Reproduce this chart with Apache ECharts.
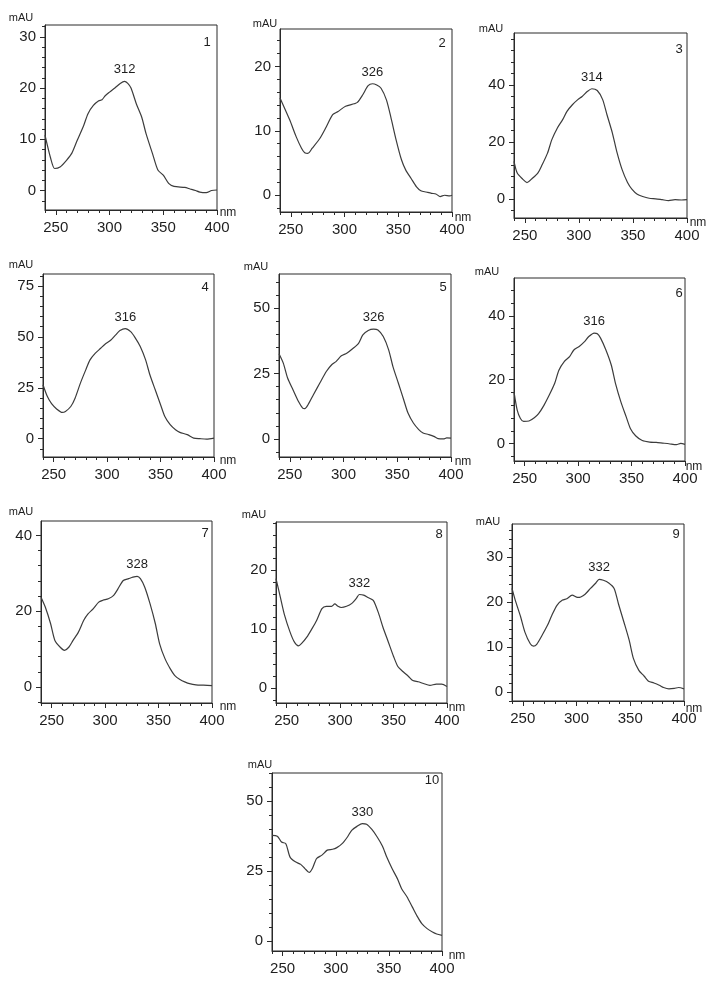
<!DOCTYPE html>
<html>
<head>
<meta charset="utf-8">
<script src="https://cdn.jsdelivr.net/npm/echarts@6/dist/echarts.min.js"></script>
<style>
html,body{margin:0;padding:0;background:#fff;}
#chart{width:719px;height:988px;}
</style>
</head>
<body>
<div id="chart"></div>
<script>
// ---- Data (wavelength nm / absorbance mAU) ----
var nm1 = [240,245,249,254,260,265,270,276,280,285,290,293,296,300,305,310,314,317,320,325,330,334,340,345,350,355,360,370,375,380,384,390,395,400];
var abs1 = [10.8,6.5,4.3,4.6,5.9,7.3,9.8,12.7,15,16.6,17.5,17.7,18.5,19.2,20,20.9,21.3,20.9,20,16.9,14.3,11.1,7.2,4,3,1.4,0.8,0.6,0.3,0,-0.3,-0.4,0,0.1];

var nm2 = [240,249,255,260,263,266,270,277,283,289,294,301,309,312,317,322,326,330,334,339,343,348,353,357,362,367,371,376,381,385,389,393,398,400];
var abs2 = [15.1,11.7,9.1,7.3,6.6,6.5,7.3,8.8,10.6,12.5,13,13.8,14.2,14.4,15.6,17,17.3,17.1,16.6,14.8,12.2,8.6,5.5,3.9,2.6,1.3,0.7,0.5,0.3,0.2,-0.2,0,-0.1,0];

var nm3 = [240,243,248,252,257,262,266,271,275,280,285,289,294,299,303,308,312,317,322,326,331,335,340,345,349,354,359,365,371,377,383,389,395,400];
var abs3 = [13.2,9.1,7,5.8,7.3,9.1,12,16.1,20.8,24.8,27.8,30.7,33,34.8,35.9,37.7,38.6,38,34.8,29.5,23.1,16.7,10.3,5.8,3.5,1.7,0.9,0.3,0.1,-0.2,-0.5,-0.2,-0.3,-0.2];

var nm4 = [240,244,248,253,258,261,266,270,275,280,284,289,294,298,303,308,312,317,322,326,331,336,340,345,350,354,359,364,368,375,381,387,393,400];
var abs4 = [26.5,20.8,17.2,14.5,12.9,13.4,15.8,19.9,27.3,33.8,38.7,42,44.4,46.4,48.2,51,53.1,54.1,52.6,49.8,45.3,38.7,31.4,24,16.7,10.9,6.9,4.4,3.1,2,0.3,0,-0.2,0.3];

var nm5 = [240,244,248,253,258,262,264,267,272,278,284,289,293,298,303,309,314,318,323,328,332,337,342,346,351,356,360,365,370,374,379,384,388,393,396,400];
var abs5 = [32.6,29,23.3,18.8,14.4,11.8,11.6,13.1,16.9,21.4,25.8,28.4,29.6,31.8,32.8,34.7,36.6,39.8,41.5,42,41.7,39.2,34.1,27.7,21.4,15,9.9,6.1,3.6,2.3,1.7,1,0.1,0,0.4,0.3];

var nm6 = [240,243,246,249,254,259,263,268,273,278,282,287,292,296,301,306,310,315,318,321,326,331,335,340,345,349,354,360,367,373,379,385,392,396,400];
var abs6 = [16.2,10.5,7.9,7,7.1,8.1,9.4,12,15.2,18.8,23,25.7,27.2,29.3,30.4,31.9,33.5,34.6,34.4,33,29.3,24.6,18.8,13.1,8.4,4.7,2.4,1,0.5,0.4,0.2,0,-0.3,0.1,-0.2];

var nm7 = [240,244,249,253,258,262,266,270,275,280,284,289,294,298,303,308,312,317,322,326,330,333,337,342,347,351,356,361,365,370,375,379,385,392,400];
var abs7 = [23.7,21.1,16.7,12.3,10.5,9.7,10.5,12.3,14.5,17.6,19.3,20.7,22.4,22.9,23.3,24.2,25.9,28.1,28.6,29,29.2,28.6,26.4,22,16.7,11.4,7.5,4.8,3.1,2,1.3,0.9,0.6,0.5,0.4];

var nm8 = [240,244,248,253,257,261,264,269,273,278,283,287,292,295,298,301,306,311,315,318,322,326,331,336,340,345,350,354,359,364,368,373,378,384,390,395,400];
var abs8 = [18.6,15.5,12.4,9.6,7.9,7.2,7.6,8.7,9.9,11.5,13.5,13.9,13.9,14.3,13.9,13.7,13.9,14.4,15.2,15.9,15.8,15.4,14.9,12.7,10.4,7.9,5.4,3.7,2.8,2,1.3,1.1,0.8,0.5,0.7,0.7,0.3];

var nm9 = [240,243,248,252,257,260,263,268,273,277,282,287,291,296,301,304,308,313,318,321,325,330,335,339,344,349,353,358,363,367,372,377,381,386,391,395,400];
var abs9 = [23,20.4,16.7,13.3,10.7,10.2,10.6,12.6,14.8,17,19.3,20.4,20.7,21.5,21,21.1,21.7,23,24.2,25,24.8,24.2,23,19.6,15.6,11.5,7.4,4.8,3.5,2.4,2,1.5,1,0.7,0.8,1,0.7];

var nm10 = [240,245,249,253,257,262,267,271,275,278,282,287,292,297,301,306,311,315,320,325,329,334,339,344,348,353,358,362,367,372,377,381,386,391,395,400];
var abs10 = [37.8,37.5,35.4,34.8,30,28.3,27.4,25.9,24.5,25.9,29.5,30.7,32.5,32.8,33.4,34.8,37.2,39.6,41,42,41.8,39.9,37.2,33.9,30,25.9,22.3,18.7,15.8,12.2,8.6,6.2,4.4,3.2,2.5,2.0];

var panelNames = ['1','2','3','4','5','6','7','8','9','10'];
var peakLabels = ['312','326','314','316','326','316','328','332','332','330'];
var xTickLabels = [250,300,350,400];
var xRange = [240,400];
var peakSearchFrom = 280; // band maximum is searched above this wavelength
var yTickLabels = [
  [0,10,20,30],[0,10,20],[0,20,40],
  [0,25,50,75],[0,25,50],[0,20,40],
  [0,20,40],[0,10,20],[0,10,20,30],
  [0,25,50]
];
var yRanges = [
  [-3.8,32.3],[-2.6,25.8],[-6.6,58.1],
  [-9,80.9],[-6.9,63.1],[-5.4,51.8],
  [-4.2,43.8],[-2.5,28.2],[-2,37.3],
  [-3.6,60.1]
];

var nmArrays = [nm1,nm2,nm3,nm4,nm5,nm6,nm7,nm8,nm9,nm10];
var absArrays = [abs1,abs2,abs3,abs4,abs5,abs6,abs7,abs8,abs9,abs10];

// ---- Layout (pixels) ----
var layout = [
  {grid:[45,25,172,185],  mau:[21,18],  nm:[228,213], num:[207,42]},
  {grid:[280,29,172,183], mau:[265,24], nm:[463,218], num:[442,43]},
  {grid:[514,33,173,185], mau:[491,29], nm:[698,223], num:[679,49]},
  {grid:[43,274,171,183], mau:[21,265], nm:[228,461], num:[205,287]},
  {grid:[279,274,172,183],mau:[256,267],nm:[463,462], num:[443,287]},
  {grid:[514,278,171,183],mau:[487,272],nm:[694,467], num:[679,293]},
  {grid:[41,521,171,182], mau:[21,512], nm:[228,707], num:[205,533]},
  {grid:[276,522,171,181],mau:[254,515],nm:[457,708], num:[439,534]},
  {grid:[512,524,172,177],mau:[488,522],nm:[694,709], num:[676,534]},
  {grid:[272,773,170,178],mau:[260,765],nm:[457,956], num:[432,780]}
];

var FONT = '"Liberation Sans", Arial, sans-serif';
var AXIS_COLOR = '#2a2a2a';
var LINE_COLOR = '#3c3c3c';
var TEXT_COLOR = '#1e1e1e';

function range(a, b, step) {
  var out = [];
  for (var v = a; v <= b + 1e-9; v += step) out.push(Math.round(v * 1000) / 1000);
  return out;
}

var grids = [], xAxes = [], yAxes = [], series = [], graphics = [];

for (var i = 0; i < 10; i++) {
  var L = layout[i];
  grids.push({
    left: L.grid[0], top: L.grid[1], width: L.grid[2], height: L.grid[3],
    show: true, borderColor: AXIS_COLOR, borderWidth: 1, backgroundColor: 'transparent',
    containLabel: false
  });

  // x axes: main (labels + major ticks) and minor (ticks every 10 nm)
  xAxes.push({
    type: 'value', gridIndex: i, min: xRange[0], max: xRange[1], position: 'bottom',
    axisLine: {show: true, onZero: false, lineStyle: {color: AXIS_COLOR, width: 1}},
    axisTick: {show: true, length: 5, customValues: xTickLabels, lineStyle: {color: AXIS_COLOR}},
    axisLabel: {show: true, customValues: xTickLabels, fontSize: 15, fontFamily: FONT, color: TEXT_COLOR, margin: 10},
    splitLine: {show: false}
  });
  xAxes.push({
    type: 'value', gridIndex: i, min: xRange[0], max: xRange[1], position: 'bottom',
    axisLine: {show: false, onZero: false},
    axisTick: {show: true, length: 3, customValues: range(xRange[0], xRange[1], 10), lineStyle: {color: AXIS_COLOR}},
    axisLabel: {show: false},
    splitLine: {show: false}
  });

  var yt = yTickLabels[i];
  var major = yt[1] - yt[0];
  var yr = yRanges[i];
  var minorStart = Math.ceil(yr[0] / (major / 5)) * (major / 5);
  yAxes.push({
    type: 'value', gridIndex: i, min: yr[0], max: yr[1], position: 'left',
    axisLine: {show: true, onZero: false, lineStyle: {color: AXIS_COLOR, width: 1}},
    axisTick: {show: true, length: 5, customValues: yt, lineStyle: {color: AXIS_COLOR}},
    axisLabel: {show: true, customValues: yt, fontSize: 15, fontFamily: FONT, color: TEXT_COLOR, margin: 9},
    splitLine: {show: false}
  });
  yAxes.push({
    type: 'value', gridIndex: i, min: yr[0], max: yr[1], position: 'left', offset: 0,
    axisLine: {show: false, onZero: false},
    axisTick: {show: true, length: 3, customValues: range(minorStart, yr[1], major / 5), lineStyle: {color: AXIS_COLOR}},
    axisLabel: {show: false},
    splitLine: {show: false}
  });

  var xs = nmArrays[i], ys = absArrays[i];
  var pts = xs.map(function (x, k) { return [x, ys[k]]; });
  // band maximum (above peakSearchFrom) taken from the data
  var pk = -1;
  for (var k = 0; k < xs.length; k++) {
    if (xs[k] >= peakSearchFrom && (pk < 0 || ys[k] > ys[pk])) pk = k;
  }
  series.push({
    type: 'line', xAxisIndex: 2 * i, yAxisIndex: 2 * i,
    data: pts, showSymbol: false, smooth: 0.25,
    lineStyle: {color: LINE_COLOR, width: 1.2},
    markPoint: {
      symbol: 'circle', symbolSize: 0, silent: true,
      data: [{coord: [xs[pk], ys[pk]], value: peakLabels[i]}],
      label: {show: true, position: 'top', distance: 5, formatter: peakLabels[i],
              fontSize: 13, fontFamily: FONT, color: TEXT_COLOR}
    }
  });

  graphics.push({type: 'text', x: L.mau[0], y: L.mau[1], silent: true,
    style: {text: 'mAU', font: '11px ' + FONT, fill: TEXT_COLOR, textAlign: 'center', textVerticalAlign: 'middle'}});
  graphics.push({type: 'text', x: L.nm[0], y: L.nm[1], silent: true,
    style: {text: 'nm', font: '12px ' + FONT, fill: TEXT_COLOR, textAlign: 'center', textVerticalAlign: 'middle'}});
  graphics.push({type: 'text', x: L.num[0], y: L.num[1], silent: true,
    style: {text: panelNames[i], font: '13px ' + FONT, fill: TEXT_COLOR, textAlign: 'center', textVerticalAlign: 'middle'}});
}

var chart = echarts.init(document.getElementById('chart'), null, {renderer: 'canvas', width: 719, height: 988});
chart.setOption({
  animation: false,
  backgroundColor: '#ffffff',
  grid: grids,
  xAxis: xAxes,
  yAxis: yAxes,
  series: series,
  graphic: graphics
});
</script>
</body>
</html>
